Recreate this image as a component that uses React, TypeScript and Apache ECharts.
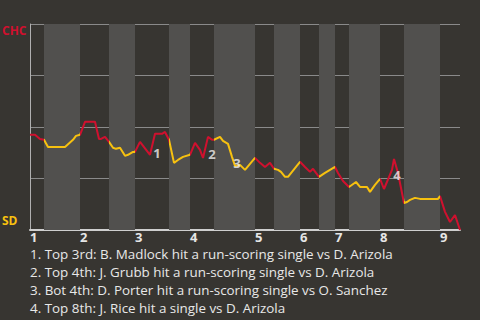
import React, { useEffect, useRef } from "react";
import * as echarts from "echarts";

// Event sequence position (x) and Cubs win probability in % (y)
const seq = [
  0, 1, 2, 2.8, 3.6, 7, 8.6, 9.2, 10, 11, 13, 13.8, 14.2, 15, 15.8, 16.6, 17.2, 18, 19, 19.6,
  20.6, 21, 22, 24, 25, 26.4, 27, 27.8, 28.8, 29.6, 30.6, 32, 33, 34, 34.6, 35.6, 36.4, 36.8,
  38, 38.6, 39.6, 40.4, 41, 42, 43, 45, 46, 47, 48, 48.8, 49.6, 50.2, 51, 51.6, 54, 55, 56,
  56.6, 57.2, 57.8, 59, 60, 61, 61.6, 62.6, 63.8, 65.2, 66, 67.4, 68, 69, 70, 70.8, 72.4,
  72.8, 73.6, 74.8, 75.4, 76, 77, 78, 81.6, 82, 83, 84, 85, 86,
];
const winProb = [
  46.2, 46.2, 44.2, 43.8, 40.3, 40.3, 43.8, 45.7, 46.2, 52.5, 52.5, 44.2, 44.2, 45.2, 42.8,
  39.9, 39.4, 39.9, 36.0, 36.5, 37.9, 37.9, 42.8, 36.5, 46.7, 46.7, 47.6, 43.8, 32.6, 34.0,
  35.5, 36.5, 42.3, 38.9, 35.0, 45.2, 43.8, 43.8, 45.2, 43.3, 41.8, 35.5, 31.1, 31.6, 29.2,
  35.0, 32.6, 30.6, 32.6, 29.7, 29.2, 28.2, 25.8, 25.8, 33.1, 30.6, 28.2, 29.7, 27.7, 25.8,
  27.7, 29.2, 30.6, 27.7, 23.8, 20.9, 23.3, 20.9, 20.9, 18.5, 21.9, 24.8, 19.9, 29.2, 34.5,
  27.7, 13.1, 13.6, 14.6, 15.6, 15.1, 15.1, 16.5, 8.8, 3.9, 7.3, 0,
];

// Where each inning begins, where each bottom half begins, and the end of the game
const inningStarts = [0, 10, 21, 32, 45, 54, 61, 70, 82];
const bottomStarts = [2.8, 15.8, 27.8, 36.8, 48.8, 57.8, 63.8, 74.8];
const gameEnd = 86;
const inningLabels = ["1", "2", "3", "4", "5", "6", "7", "8", "9"];

// Numbered key plays: position, win probability, number
const keyPlayX = [25, 35.6, 41, 72.8];
const keyPlayY = [46.7, 45.2, 31.1, 34.5];
const keyPlayNums = ["1", "2", "3", "4"];
const keyPlayNotes = [
  "1. Top 3rd: B. Madlock hit a run-scoring single vs D. Arizola",
  "2. Top 4th: J. Grubb hit a run-scoring single vs D. Arizola",
  "3. Bot 4th: D. Porter hit a run-scoring single vs O. Sanchez",
  "4. Top 8th: J. Rice hit a single vs D. Arizola",
];

const teamTop = "CHC";
const teamBottom = "SD";

const RED = "#d0102e";
const YELLOW = "#f7c10f";
const FONT = "'Open Sans', 'Noto Sans', sans-serif";

export default function App() {
  const ref = useRef<HTMLDivElement>(null);

  useEffect(() => {
    if (!ref.current) return;
    const chart = echarts.init(ref.current, null, { renderer: "svg" });

    // half-innings: top halves red (Cubs batting), bottom halves yellow (Padres batting)
    const pieces: any[] = [];
    const bands: any[] = [];
    inningStarts.forEach((s, i) => {
      const b = bottomStarts[i];
      const next = i + 1 < inningStarts.length ? inningStarts[i + 1] : gameEnd;
      if (b === undefined) {
        pieces.push({ gte: s, lte: next + 1, color: RED });
      } else {
        pieces.push({ gte: s, lt: b, color: RED });
        pieces.push({ gte: b, lt: next, color: YELLOW });
        bands.push([{ xAxis: b }, { xAxis: next }]);
      }
    });

    const offsets = [[2, 19], [4, 17], [2, -3], [3, 16]];

    // key-play notes under the chart, one text per line
    const notes = keyPlayNotes.map((t, i) => ({
      type: "text",
      x: 30,
      y: 254 + i * 18,
      style: {
        text: t,
        fill: "#e8e8e8",
        font: `13.4px ${FONT}`,
        verticalAlign: "middle",
      },
    }));

    chart.setOption({
      animation: false,
      backgroundColor: "#373531",
      grid: { left: 30, right: 20, top: 24, bottom: 90 },
      xAxis: {
        type: "value",
        min: 0,
        max: gameEnd,
        axisLine: { show: true, lineStyle: { color: "#cfcfcf", width: 2 } },
        axisTick: { show: false },
        splitLine: { show: false },
        axisLabel: {
          customValues: inningStarts,
          formatter: (v: number) => inningLabels[inningStarts.indexOf(v)] ?? "",
          color: "#e6e6e6",
          fontWeight: "bold",
          fontSize: 13,
          lineHeight: 12,
          fontFamily: FONT,
          align: "left",
          margin: 1,
        },
      },
      yAxis: {
        type: "value",
        min: 0,
        max: 100,
        interval: 25,
        axisLine: { show: true, lineStyle: { color: "#b0b0b0", width: 1 } },
        axisTick: { show: false },
        axisLabel: { show: false },
        splitLine: { show: true, lineStyle: { color: "#8a8a8a", width: 1 } },
      },
      visualMap: {
        type: "piecewise",
        show: false,
        dimension: 0,
        seriesIndex: 0,
        pieces,
      },
      graphic: [
        {
          type: "text",
          left: 2,
          top: 24,
          style: {
            text: teamTop,
            fill: RED,
            font: `bold 12px ${FONT}`,
          },
        },
        {
          type: "text",
          left: 2,
          top: 214,
          style: {
            text: teamBottom,
            fill: YELLOW,
            font: `bold 12px ${FONT}`,
          },
        },
        ...notes,
      ],
      series: [
        {
          type: "line",
          data: seq.map((x, i) => [x, winProb[i]]),
          showSymbol: false,
          symbol: "none",
          lineStyle: { width: 2 },
          z: 3,
        },
        {
          type: "scatter",
          symbolSize: 0,
          z: 4,
          data: keyPlayX.map((x, i) => ({
            value: [x, keyPlayY[i]],
            label: { offset: offsets[i] },
          })),
          label: {
            show: true,
            position: "inside",
            formatter: (p: any) => keyPlayNums[p.dataIndex],
            color: "#f2f2f2",
            fontWeight: "bold",
            fontSize: 13,
            fontFamily: FONT,
          },
          markArea: {
            silent: true,
            itemStyle: { color: "#51504e" },
            data: bands,
          },
        },
      ],
    });

    return () => chart.dispose();
  }, []);

  return (
    <div
      ref={ref}
      style={{ position: "fixed", left: 0, top: 0, width: 480, height: 320 }}
    />
  );
}
